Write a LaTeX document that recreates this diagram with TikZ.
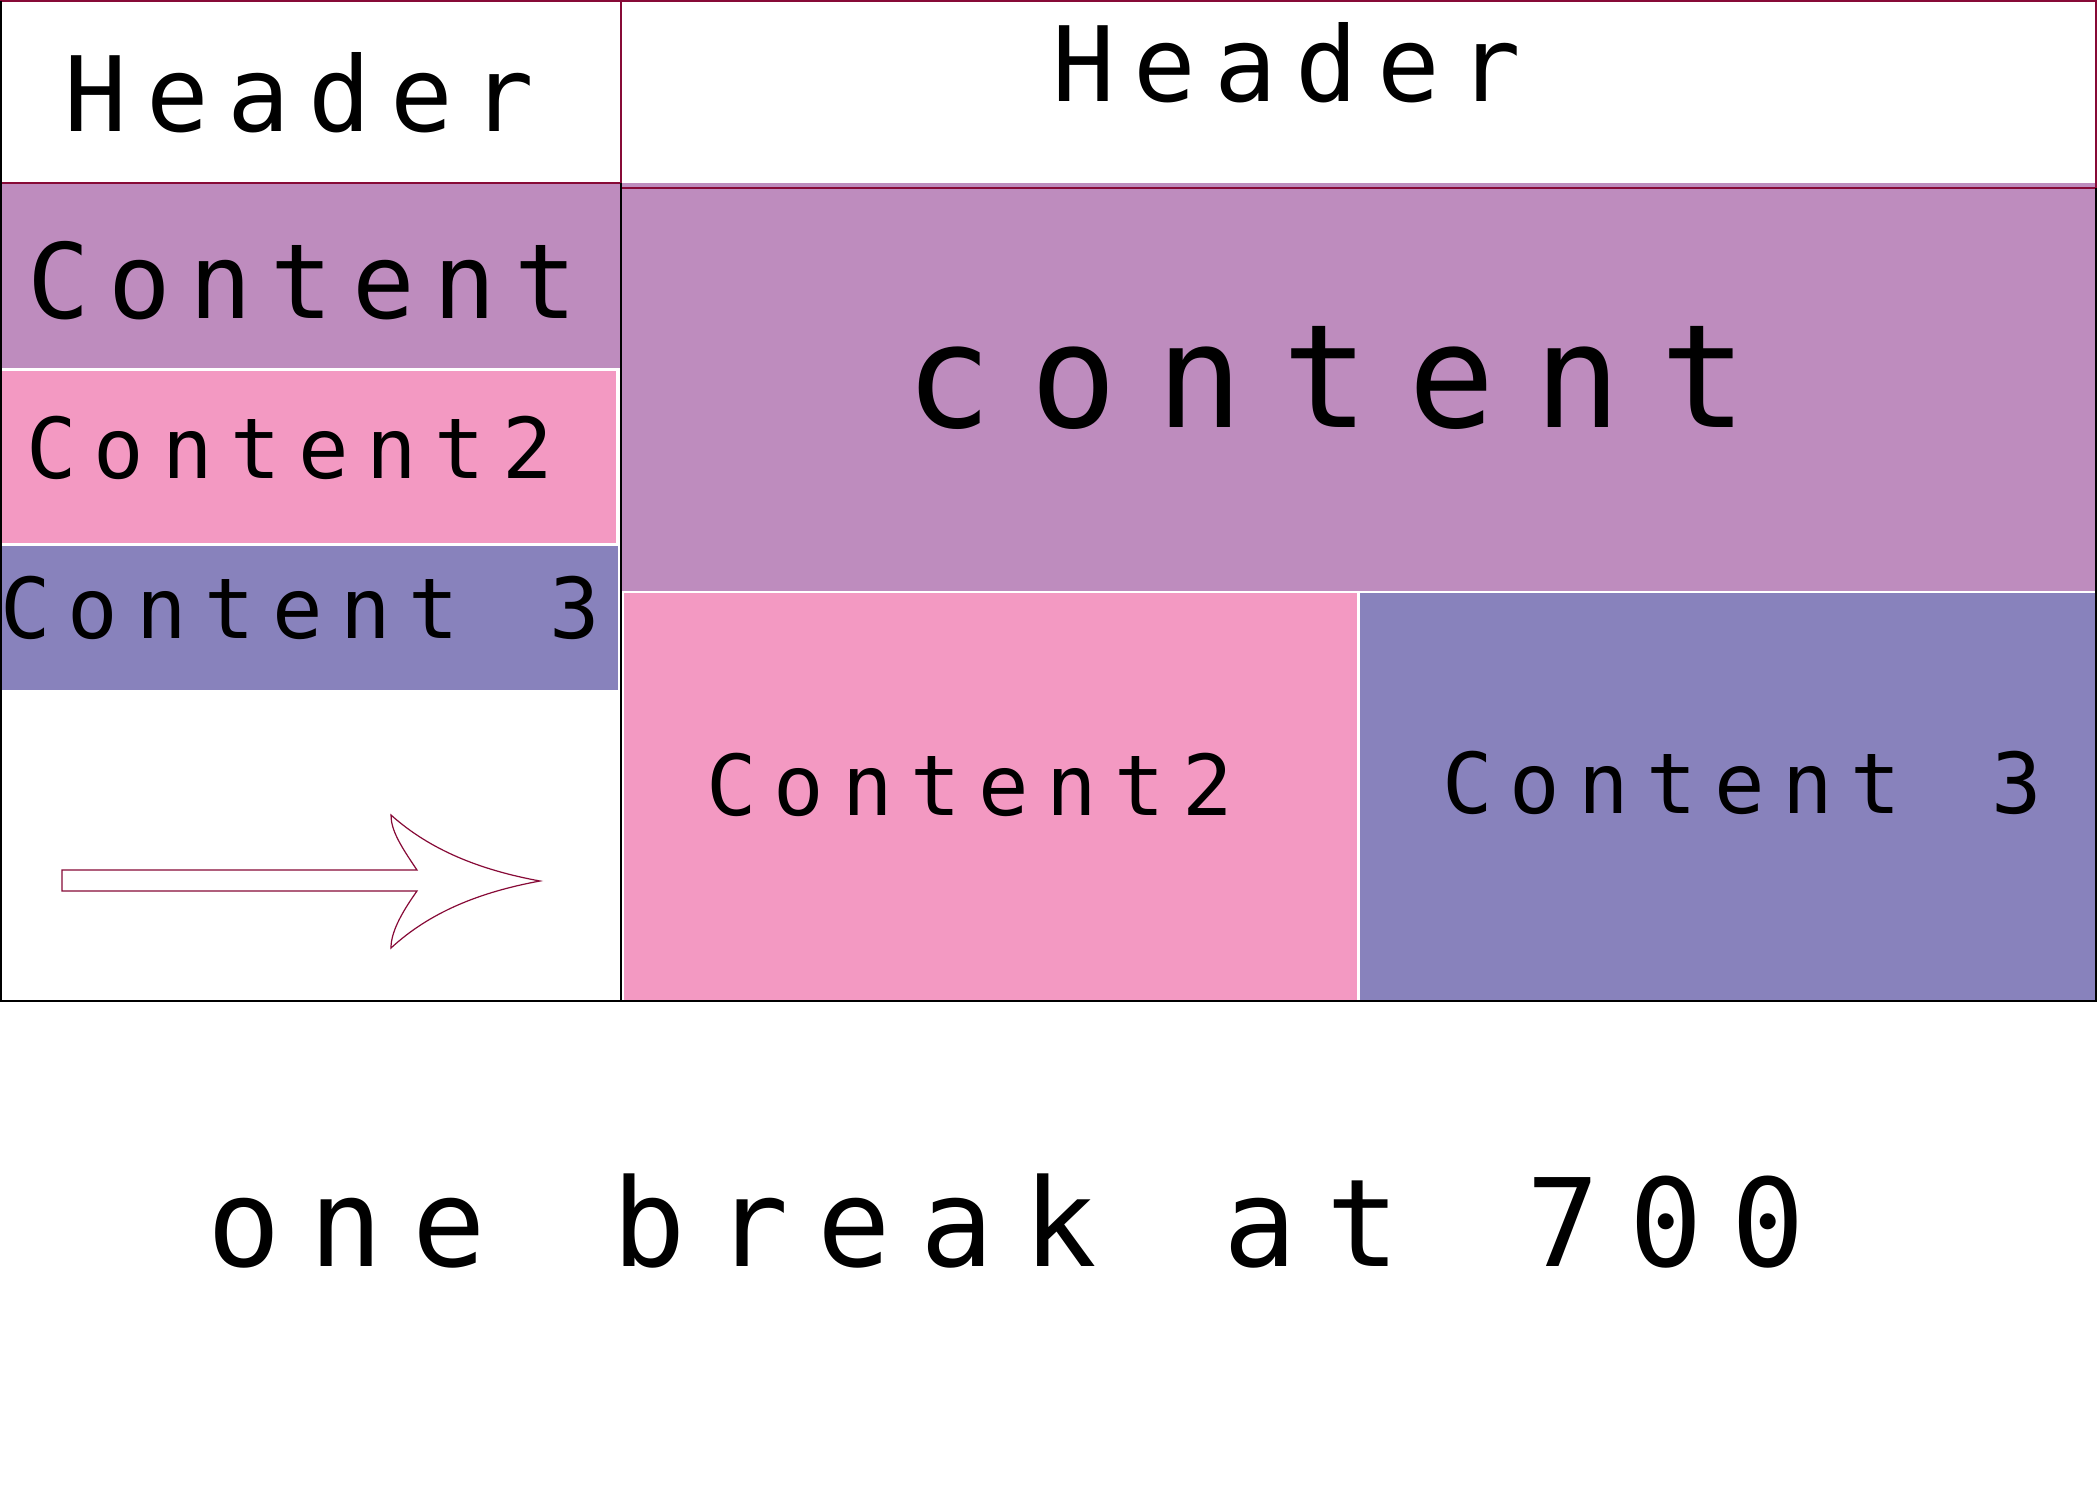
\documentclass[tikz,border=0pt]{standalone}
\usepackage{xcolor}
\usepackage{tikz}
\usetikzlibrary{shapes, arrows}
\usepackage{fontspec}
\newfontfamily\hdrfont[LetterSpace=18]{DejaVu Sans Mono}
\newfontfamily\boxfont[LetterSpace=20.8, WordSpace=1.33]{DejaVu Sans Mono}
\newfontfamily\bigfont[LetterSpace=27.3]{DejaVu Sans Mono}
\newfontfamily\notefont[LetterSpace=24, WordSpace=1.233]{DejaVu Sans Mono}
\definecolor{cellpurple}{RGB}{190,140,190}
\definecolor{cellpink}{RGB}{243,153,194}
\definecolor{cellblue}{RGB}{136,130,188}
\definecolor{framered}{RGB}{135,10,55}

\begin{document}
\begin{tikzpicture}[x=0.25pt, y=-0.25pt, line width=0.5pt,
        label/.style={anchor=base west, inner sep=0, outer sep=0},
        hdr/.style={label, font=\hdrfont\fontsize{26}{28}\selectfont},
        cell/.style={label, font=\boxfont\fontsize{21}{24}\selectfont}]
    \useasboundingbox (0,0) rectangle (2100,1500);
    \fill[white] (0,0) rectangle (2100,1500);

    \fill[cellpurple] (0,183) rectangle (620,368);
    \fill[cellpink] (0,371) rectangle (616,543);
    \fill[cellblue] (0,546) rectangle (618,690);

    \fill[cellpurple] (621,183) rectangle (2096,591);
    \fill[cellpink] (624,593) rectangle (1357,1000);
    \fill[cellblue] (1360,593) rectangle (2095,1000);

    \draw[framered] (1,1) rectangle (621,183);
    \draw[framered] (621,1) rectangle (2096,188);
    \draw (621,183) -- (621,1001) -- (1,1001) -- (1,1);
    \draw (2096,188) -- (2096,1001) -- (621,1001);

    \node[hdr] (lheader) at (65,131) {Header};
    \node[hdr] (rheader) at (1052,101) {Header};
    \node[hdr] (lcontent) at (27,318) {Content};
    \node[label, font=\bigfont\fontsize{36}{40}\selectfont] (rcontent) at (905,427) {content};
    \node[cell] (lcontenttwo) at (26,478) {Content2};
    \node[cell] (lcontentthree) at (0,638) {Content 3};
    \node[cell] (rcontenttwo) at (706,815) {Content2};
    \node[cell] (rcontentthree) at (1442,813) {Content 3};
    \node[label, font=\notefont\fontsize{30.5}{34}\selectfont] (note) at (207,1266) {one break at 700};

    \draw[framered, line width=0.3pt] (62,870) -- (417,870)
        .. controls (400,845) and (391,830) .. (391,815)
        .. controls (430,850) and (480,870) .. (540,881)
        .. controls (480,892) and (430,912) .. (391,948)
        .. controls (391,933) and (400,915) .. (417,891)
        -- (62,891) -- cycle;
\end{tikzpicture}
\end{document}
